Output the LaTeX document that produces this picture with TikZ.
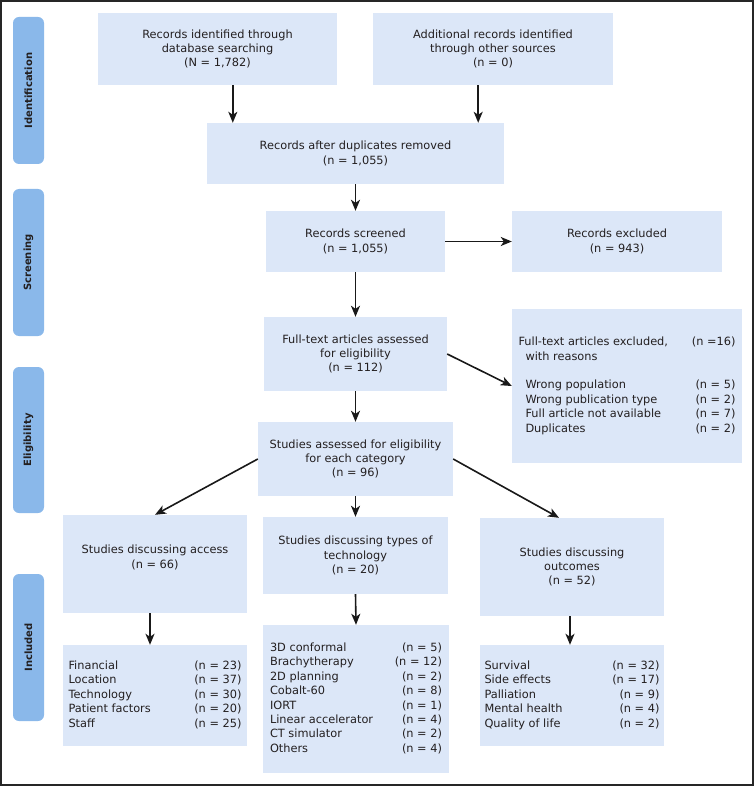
\documentclass[tikz,border=0pt]{standalone}
\usepackage{fontspec}
\setmainfont{DejaVu Sans}
\usetikzlibrary{arrows.meta,calc}
\definecolor{boxfill}{RGB}{220,231,248}
\definecolor{barfill}{RGB}{138,184,234}
\definecolor{txt}{RGB}{35,31,32}
\newcommand{\boxfont}{\fontsize{11.35pt}{14.4pt}\selectfont}
\newcommand{\barfont}{\fontsize{10pt}{12pt}\selectfont\bfseries}
\begin{document}
\begin{tikzpicture}[x=1pt,y=-1pt,
  box/.style={fill=boxfill, inner sep=0pt, align=center, text=txt, font=\boxfont},
  bar/.style={fill=barfill, rounded corners=6pt, inner sep=0pt, rotate=90,
              minimum height=31pt, text=txt, font=\barfont},
  arr/.style={-{Stealth[length=11pt,width=9pt,inset=3pt]}, line width=1.6pt, draw=black!90}]
\useasboundingbox (0,0) rectangle (754,786);
\draw[line width=1.4pt, draw=black!85] (1,1) rectangle (753,785);

% stage bars
\node[bar, minimum width=147pt] (s1) at (28.5,90.5) {Identification};
\node[bar, minimum width=147pt] (s2) at (28.5,262.5) {Screening};
\node[bar, minimum width=146pt] (s3) at (28.5,440) {Eligibility};
\node[bar, minimum width=147pt] (s4) at (28.5,647.5) {Included};

% boxes
\node[box, minimum width=239pt, minimum height=72pt] (b1) at (217.5,49)
  {Records identified through\\database searching\\(N = 1,782)};
\node[box, minimum width=240pt, minimum height=72pt] (b2) at (493,49)
  {Additional records identified\\through other sources\\(n = 0)};
\node[box, minimum width=297pt, minimum height=61pt] (b3) at (355.5,153.5)
  {Records after duplicates removed\\(n = 1,055)};
\node[box, minimum width=179pt, minimum height=61pt] (b4) at (355.5,241.5)
  {Records screened\\(n = 1,055)};
\node[box, minimum width=210pt, minimum height=61pt] (b5) at (617,241.5)
  {Records excluded\\(n = 943)};
\node[box, minimum width=183pt, minimum height=74pt] (b6) at (355.5,354)
  {Full-text articles assessed\\for eligibility\\(n = 112)};
\node[box, minimum width=230pt, minimum height=154pt] (b7) at (627,386)
  {\begin{tabular*}{217pt}{@{}l@{\extracolsep{\fill}}r@{}}
   Full-text articles excluded, & (n =16)\\
   \hspace{7pt}with reasons & \\
   & \\
   \hspace{7pt}Wrong population & (n = 5)\\
   \hspace{7pt}Wrong publication type & (n = 2)\\
   \hspace{7pt}Full article not available & (n = 7)\\
   \hspace{7pt}Duplicates & (n = 2)
   \end{tabular*}};
\node[box, minimum width=195pt, minimum height=74pt] (b8) at (355.5,459)
  {Studies assessed for eligibility\\for each category\\(n = 96)};
\node[box, minimum width=184pt, minimum height=98pt] (b9) at (155,564)
  {Studies discussing access\\(n = 66)\\\mbox{}};
\node[box, minimum width=185pt, minimum height=77pt] (b10) at (355.5,555.5)
  {Studies discussing types of\\technology\\(n = 20)};
\node[box, minimum width=184pt, minimum height=98pt] (b11) at (572,567)
  {Studies discussing\\outcomes\\(n = 52)};
\node[box, minimum width=184pt, minimum height=101pt] (b12) at (155,695.5)
  {\begin{tabular*}{173pt}{@{}l@{\extracolsep{\fill}}r@{}}
   Financial & (n = 23)\\
   Location & (n = 37)\\
   Technology & (n = 30)\\
   Patient factors & (n = 20)\\
   Staff & (n = 25)
   \end{tabular*}};
\node[box, minimum width=186pt, minimum height=148pt] (b13) at (356,699)
  {\begin{tabular*}{172pt}{@{}l@{\extracolsep{\fill}}r@{}}
   3D conformal & (n = 5)\\
   Brachytherapy & (n = 12)\\
   2D planning & (n = 2)\\
   Cobalt-60 & (n = 8)\\
   IORT & (n = 1)\\
   Linear accelerator & (n = 4)\\
   CT simulator & (n = 2)\\
   Others & (n = 4)
   \end{tabular*}};
\node[box, minimum width=184pt, minimum height=101pt] (b14) at (572,695.5)
  {\begin{tabular*}{175pt}{@{}l@{\extracolsep{\fill}}r@{}}
   Survival & (n = 32)\\
   Side effects & (n = 17)\\
   Palliation & (n = 9)\\
   Mental health & (n = 4)\\
   Quality of life & (n = 2)
   \end{tabular*}};

% connectors
\coordinate (a1) at ($(b3.north west)+(26,0)$);
\coordinate (a2) at ($(b3.north east)+(-26,0)$);
\draw[arr] (a1 |- b1.south) -- (a1);
\draw[arr] (a2 |- b2.south) -- (a2);
\draw[arr] (b3.south) -- (b4.north);
\draw[arr] (b4.east) -- (b5.west);
\draw[arr] (b4.south) -- (b6.north);
\draw[arr] (b6.east) -- (b7.west);
\draw[arr] (b6.south) -- (b8.north);
\draw[arr] (b8.west) -- (b9.north);
\draw[arr] (b8.south) -- (b10.north);
\draw[arr] (b8.east) -- ([xshift=-13pt]b11.north);
\draw[arr] ([xshift=-5pt]b9.south) -- ([xshift=-5pt]b12.north);
\draw[arr] (b10.south) -- (b13.north);
\draw[arr] ([xshift=-2pt]b11.south) -- ([xshift=-2pt]b14.north);
\end{tikzpicture}
\end{document}
